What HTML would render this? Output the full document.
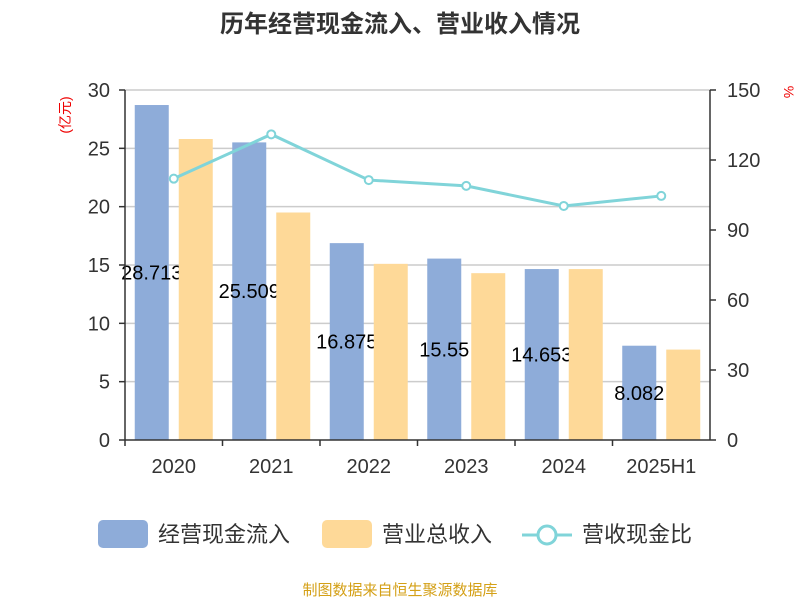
<!DOCTYPE html>
<html><head><meta charset="utf-8"><style>
body{margin:0;background:#fff;}
svg{display:block;font-family:"Liberation Sans","Noto Sans CJK SC",sans-serif;}
</style></head><body>
<svg id="chart" width="800" height="600">
<text x="400" y="32" text-anchor="middle" font-size="24" font-weight="bold" fill="#333">历年经营现金流入、营业收入情况</text>
<text x="0" y="0" transform="translate(70,115) rotate(-90)" text-anchor="middle" font-size="14" fill="#e00">(亿元)</text>
<text x="788" y="96" text-anchor="middle" font-size="14" fill="#e00" transform="rotate(90,788,92)">%</text>
<g id="grid"></g><g id="bars1"></g><g id="labels"></g><g id="bars2"></g><g id="axes"></g><g id="line"></g>
<g>
<rect x="98" y="520" width="50" height="28" rx="5" fill="#8eacd9"/>
<text x="158" y="542" font-size="22" fill="#333">经营现金流入</text>
<rect x="322" y="520" width="50" height="28" rx="5" fill="#fed998"/>
<text x="382" y="542" font-size="22" fill="#333">营业总收入</text>
<line x1="522" y1="535" x2="572" y2="535" stroke="#80d4d9" stroke-width="3"/>
<circle cx="547" cy="535" r="9" fill="#fff" stroke="#80d4d9" stroke-width="3"/>
<text x="582" y="542" font-size="22" fill="#333">营收现金比</text>
</g>
<text x="400" y="595" text-anchor="middle" font-size="15" fill="#d4a017">制图数据来自恒生聚源数据库</text>
</svg>
<script>
const categories=["2020","2021","2022","2023","2024","2025H1"];
const cashInflow=[28.713,25.509,16.875,15.55,14.653,8.082];
const cashLabels=["28.713","25.509","16.875","15.55","14.653","8.082"];
const revenue=[25.8,19.5,15.1,14.3,14.65,7.75];
const ratio=[112,131,111.4,108.9,100.3,104.6];
const leftTicks=[0,5,10,15,20,25,30];
const rightTicks=[0,30,60,90,120,150];
const NS="http://www.w3.org/2000/svg";
const X0=125,X1=710,Y0=440,Y1=90;
const bw=(X1-X0)/categories.length;
const yL=v=>Y0-(v/30)*(Y0-Y1);
const yR=v=>Y0-(v/150)*(Y0-Y1);
const xc=i=>X0+bw*(i+0.5);
function mk(tag,attrs,parent,txt){const e=document.createElementNS(NS,tag);for(const k in attrs)e.setAttribute(k,attrs[k]);if(txt!==undefined)e.textContent=txt;document.getElementById(parent).appendChild(e);return e;}
leftTicks.forEach(t=>{
 if(t>0){const g=mk('line',{x1:X0,x2:X1,y1:yL(t),y2:yL(t),stroke:'#ccc','stroke-width':1.5},'grid');
 
 }
 const l=mk('text',{x:X0-15,y:yL(t)+7,'text-anchor':'end','font-size':20,fill:'#333'},'axes',t);
 
 
 const tk=mk('line',{x1:X0-6,x2:X0,y1:yL(t),y2:yL(t),stroke:'#333','stroke-width':1.5},'axes');
 
 
});
rightTicks.forEach(t=>{
 const l=mk('text',{x:X1+17,y:yR(t)+7,'font-size':20,fill:'#333'},'axes',t);
 
 
 const tk=mk('line',{x1:X1,x2:X1+6,y1:yR(t),y2:yR(t),stroke:'#333','stroke-width':1.5},'axes');
 
 
});
let a=mk('line',{x1:X0,x2:X0,y1:Y1,y2:Y0,stroke:'#333','stroke-width':1.5},'axes');


a=mk('line',{x1:X1,x2:X1,y1:Y1,y2:Y0,stroke:'#333','stroke-width':1.5},'axes');


a=mk('line',{x1:X0,x2:X1,y1:Y0,y2:Y0,stroke:'#333','stroke-width':1.5},'axes');


categories.forEach((c,i)=>{
 const tk=mk('line',{x1:X0+bw*i,x2:X0+bw*i,y1:Y0,y2:Y0+6,stroke:'#333','stroke-width':1.5},'axes');
 
 
 const l=mk('text',{x:xc(i),y:Y0+33,'text-anchor':'middle','font-size':20,fill:'#333'},'axes',c);
 
 
 const b1=mk('rect',{x:xc(i)-39,y:yL(cashInflow[i]),width:34,height:Y0-yL(cashInflow[i]),fill:'#8eacd9'},'bars1');
 
 
 const lb=mk('text',{x:xc(i)-22,y:(yL(cashInflow[i])+Y0)/2+7,'text-anchor':'middle','font-size':20,fill:'#000'},'labels',cashLabels[i]);
 
 
 const b2=mk('rect',{x:xc(i)+5,y:yL(revenue[i]),width:34,height:Y0-yL(revenue[i]),fill:'#fed998'},'bars2');
 
 
});
const pts=ratio.map((v,i)=>xc(i)+','+yR(v)).join(' ');
const pl=mk('polyline',{points:pts,fill:'none',stroke:'#80d4d9','stroke-width':3},'line');


ratio.forEach((v,i)=>{
 const c=mk('circle',{cx:xc(i),cy:yR(v),r:4,fill:'#fff',stroke:'#80d4d9','stroke-width':2},'line');
 
 
});
</script>
</body></html>
